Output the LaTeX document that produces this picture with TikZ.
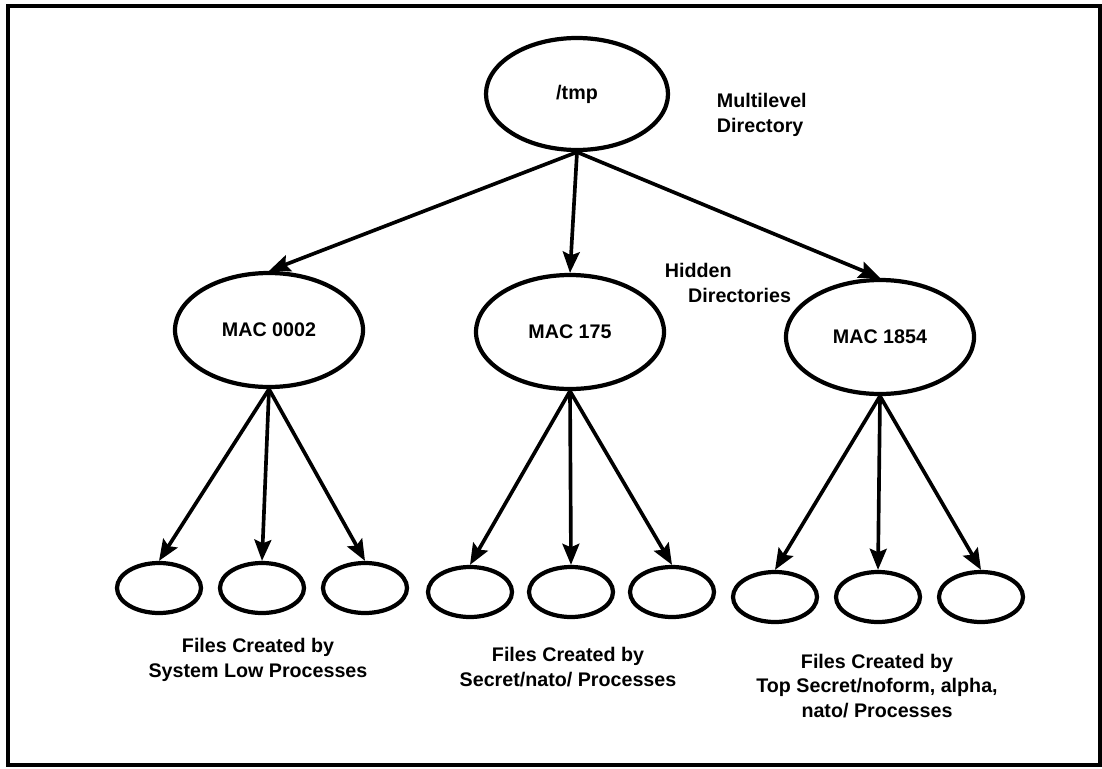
\documentclass[tikz,border=0pt]{standalone}
\usepackage{fontspec}
\setmainfont{Liberation Sans}
\usetikzlibrary{shapes.geometric,arrows.meta,positioning}
\newcommand{\dirfont}{\fontsize{14}{17.5}\selectfont\bfseries}
\begin{document}
\begin{tikzpicture}[
		bigdir/.style={ellipse,draw,line width=3pt,minimum width=4.7cm,minimum height=2.85cm,font=\dirfont},
		smalldir/.style={ellipse,draw,line width=3pt,minimum width=2.1cm,minimum height=1.25cm},
		note/.style={align=left,font=\dirfont},
		caption/.style={align=center,font=\dirfont},
		link/.style={->,line width=2.6pt},
		>={Stealth[length=15pt,width=12pt,inset=2.5pt]}
		]
		\useasboundingbox (0,0) rectangle (27.55,-19.2);
		\draw[line width=2.2pt] (0.2,-0.15) rectangle (27.5,-19.125);
		% root and hidden directories
		\node[bigdir, minimum width=4.55cm, minimum height=2.8cm](tmp) at (14.425,-2.35){/tmp};
		\node[note, anchor=west](multi) at (17.8,-2.875){Multilevel\\Directory};
		\node[bigdir, below of = tmp, yshift = -4.9cm, xshift = -7.7cm](M0002){MAC 0002};
		\node[bigdir, below of = tmp, yshift = -4.95cm, xshift = -0.175cm](M175){MAC 175};
		\node[bigdir, below of = tmp, yshift = -5.075cm, xshift = 7.575cm](M1854){MAC 1854};
		\node[note, anchor=west](hidden) at (16.5,-7.08){Hidden\\\hspace*{0.58cm}Directories};
		\draw[link] (tmp.south) -- (M0002.north);
		\draw[link] (tmp.south) -- (M175.north);
		\draw[link] (tmp.south) -- (M1854.north);
		% files under MAC 0002
		\node[smalldir, below of = M0002, yshift = -5.45cm, xshift = -2.75cm](F01){};
		\node[smalldir, below of = M0002, yshift = -5.45cm, xshift = -0.175cm](F02){};
		\node[smalldir, below of = M0002, yshift = -5.45cm, xshift = 2.4cm](F03){};
		\draw[link] (M0002.south) -- (F01.north);
		\draw[link] (M0002.south) -- (F02.north);
		\draw[link] (M0002.south) -- (F03.north);
		\node[caption, below of = F02, yshift = -0.8cm, xshift = -0.1cm](C0){Files Created by\\System Low Processes};
		% files under MAC 175
		\node[smalldir, below of = M175, yshift = -5.5cm, xshift = -2.5cm](F11){};
		\node[smalldir, below of = M175, yshift = -5.5cm, xshift = 0.025cm](F12){};
		\node[smalldir, below of = M175, yshift = -5.5cm, xshift = 2.55cm](F13){};
		\draw[link] (M175.south) -- (F11.north);
		\draw[link] (M175.south) -- (F12.north);
		\draw[link] (M175.south) -- (F13.north);
		\node[caption, below of = F12, yshift = -0.875cm, xshift = -0.075cm](C1){Files Created by\\Secret/nato/ Processes};
		% files under MAC 1854
		\node[smalldir, below of = M1854, yshift = -5.5cm, xshift = -2.625cm](F21){};
		\node[smalldir, below of = M1854, yshift = -5.5cm, xshift = -0.05cm](F22){};
		\node[smalldir, below of = M1854, yshift = -5.5cm, xshift = 2.525cm](F23){};
		\draw[link] (M1854.south) -- (F21.north);
		\draw[link] (M1854.south) -- (F22.north);
		\draw[link] (M1854.south) -- (F23.north);
		\node[caption, below of = F22, yshift = -1.225cm, xshift = -0.025cm](C2){Files Created by\\Top Secret/noform, alpha,\\nato/ Processes};
	\end{tikzpicture}
\end{document}
